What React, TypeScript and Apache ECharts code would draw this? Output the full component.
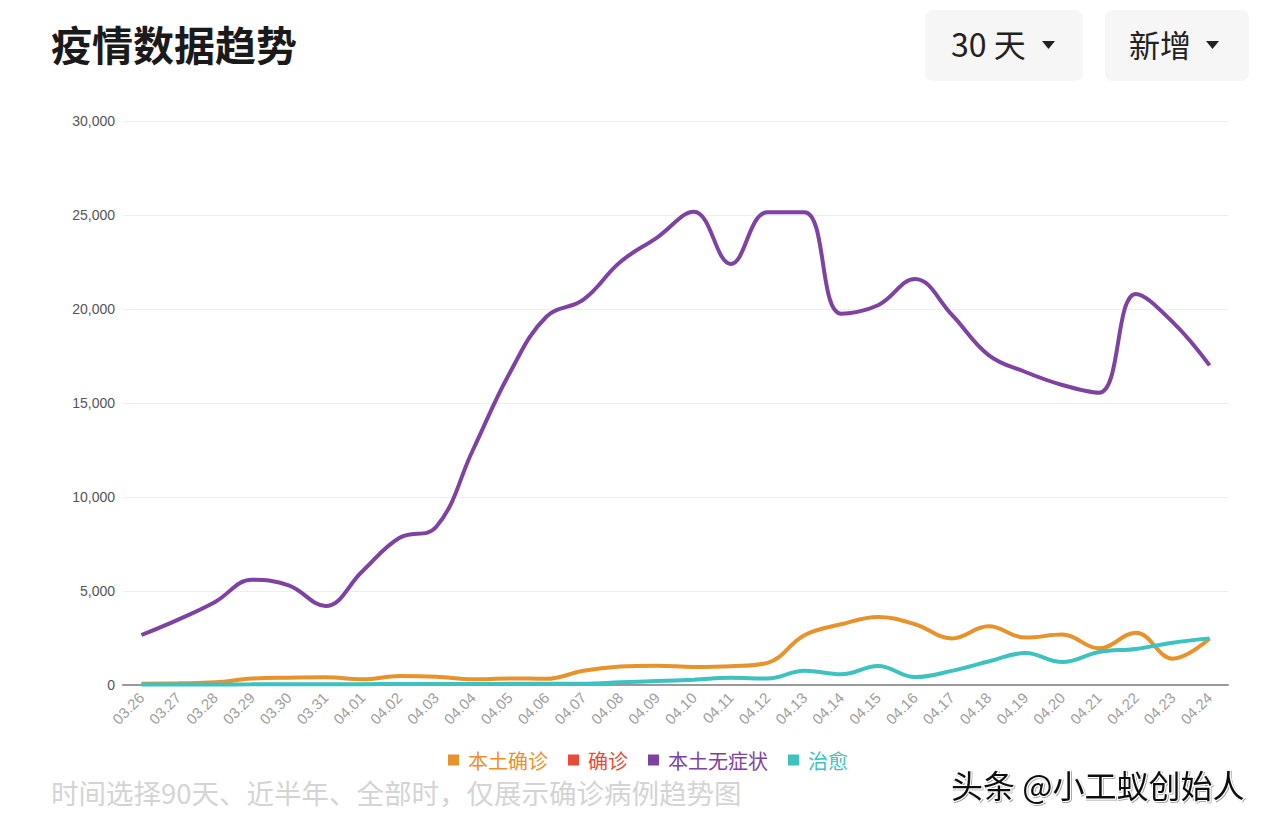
import React, { useEffect, useRef } from "react";
import * as echarts from "echarts";

const dates = [
  "03.26", "03.27", "03.28", "03.29", "03.30", "03.31", "04.01", "04.02", "04.03", "04.04",
  "04.05", "04.06", "04.07", "04.08", "04.09", "04.10", "04.11", "04.12", "04.13", "04.14",
  "04.15", "04.16", "04.17", "04.18", "04.19", "04.20", "04.21", "04.22", "04.23", "04.24",
];

const localConfirmed = [
  70, 90, 140, 340, 390, 410, 300, 480, 440, 300,
  350, 330, 760, 980, 1030, 960, 1000, 1180, 2650, 3230,
  3620, 3230, 2480, 3120, 2520, 2680, 1950, 2780, 1400, 2470,
];

const confirmed: number[] = [];

const asymptomatic = [
  2660, 3480, 4420, 5600, 5300, 4200, 6050, 7820, 8400, 12500,
  16600, 19600, 20500, 22500, 23800, 25170, 22400, 25150, 25150, 19750,
  20200, 21600, 19700, 17550, 16650, 15960, 15550, 20800, 19300, 17000,
];

const cured = [
  20, 25, 30, 35, 40, 40, 45, 50, 50, 55,
  60, 60, 70, 140, 210, 280, 380, 350, 760, 570,
  1010, 420, 750, 1250, 1700, 1220, 1760, 1920, 2250, 2480,
];

const yTicks = [0, 5000, 10000, 15000, 20000, 25000, 30000];

const colors = {
  local: "#E8922B",
  confirmed: "#E64B3B",
  asym: "#7E42A2",
  cured: "#3EC2BF",
};

export default function App() {
  const ref = useRef<HTMLDivElement>(null);
  useEffect(() => {
    if (!ref.current) return;
    const chart = echarts.init(ref.current, null, { renderer: "svg" });
    const fontCJK = "'PingFang SC','Noto Sans CJK SC',sans-serif";
    const fontLatin = "'Helvetica Neue',Arial,'Liberation Sans',sans-serif";
    const lineSeries = (name: string, data: number[], color: string) => ({
      name,
      type: "line",
      data,
      smooth: 0.4,
      showSymbol: false,
      symbol: "none",
      lineStyle: { color, width: 4 },
      itemStyle: { color },
    });
    chart.setOption({
      animation: false,
      backgroundColor: "#ffffff",
      color: [colors.local, colors.confirmed, colors.asym, colors.cured],
      grid: { left: 123, right: 42, top: 121, bottom: 141 },
      legend: {
        bottom: 51,
        left: 443,
        itemWidth: 11,
        itemHeight: 11,
        itemGap: 20,
        icon: "rect",
        textStyle: { fontSize: 20, fontFamily: fontCJK, padding: [0, 0, 0, 4] },
        data: [
          { name: "本土确诊", textStyle: { color: colors.local } },
          { name: "确诊", textStyle: { color: colors.confirmed } },
          { name: "本土无症状", textStyle: { color: colors.asym } },
          { name: "治愈", textStyle: { color: colors.cured } },
        ],
      },
      xAxis: {
        type: "category",
        data: dates,
        boundaryGap: true,
        axisLine: { show: true, lineStyle: { color: "#999999", width: 2 } },
        axisTick: { show: false },
        axisLabel: {
          rotate: 45,
          color: "#A0A0A0",
          fontSize: 15,
          fontFamily: fontLatin,
          interval: 0,
          margin: 10,
        },
      },
      yAxis: {
        type: "value",
        min: 0,
        max: yTicks[yTicks.length - 1],
        interval: yTicks[1] - yTicks[0],
        axisLine: { show: false },
        axisTick: { show: false },
        splitLine: { lineStyle: { color: "#EEEEEE", width: 1 } },
        axisLabel: {
          color: "#555555",
          fontSize: 14,
          margin: 8,
          fontFamily: fontLatin,
          formatter: (v: number) => v.toLocaleString("en-US"),
        },
      },
      series: [
        lineSeries("本土确诊", localConfirmed, colors.local),
        lineSeries("确诊", confirmed, colors.confirmed),
        lineSeries("本土无症状", asymptomatic, colors.asym),
        lineSeries("治愈", cured, colors.cured),
      ],
      graphic: [
        {
          type: "text",
          left: 51,
          top: 22,
          style: {
            text: "疫情数据趋势",
            font: `bold 41px ${fontCJK}`,
            fill: "#1a1a1a",
          },
        },
        {
          type: "rect",
          left: 925,
          top: 10,
          shape: { width: 158, height: 71, r: 8 },
          style: { fill: "#F6F6F6" },
        },
        {
          type: "text",
          left: 951,
          top: 27,
          style: { text: "30 天", font: `32px ${fontCJK}`, fill: "#222222" },
        },
        {
          type: "polygon",
          shape: { points: [[1042, 41], [1055, 41], [1048.5, 49]] },
          style: { fill: "#222222" },
        },
        {
          type: "rect",
          left: 1105,
          top: 10,
          shape: { width: 144, height: 71, r: 8 },
          style: { fill: "#F6F6F6" },
        },
        {
          type: "text",
          left: 1129,
          top: 28,
          style: { text: "新增", font: `31px ${fontCJK}`, fill: "#222222" },
        },
        {
          type: "polygon",
          shape: { points: [[1206, 41], [1219, 41], [1212.5, 49]] },
          style: { fill: "#222222" },
        },
        {
          type: "text",
          left: 51,
          top: 778,
          style: {
            text: "时间选择90天、近半年、全部时，仅展示确诊病例趋势图",
            font: `27.5px ${fontCJK}`,
            fill: "#D4D4D4",
          },
        },
        {
          type: "text",
          left: 950,
          top: 767,
          style: {
            text: "头条 @小工蚁创始人",
            font: `32px ${fontCJK}`,
            fill: "#111111",
            stroke: "#ffffff",
            lineWidth: 2,
            textShadowColor: "rgba(0,0,0,0.35)",
            textShadowOffsetX: 1,
            textShadowOffsetY: 1,
            textShadowBlur: 1,
          },
        },
      ],
    });
    return () => chart.dispose();
  }, []);
  return (
    <div
      ref={ref}
      style={{ width: 1270, height: 826, position: "absolute", left: 0, top: 0 }}
    />
  );
}
